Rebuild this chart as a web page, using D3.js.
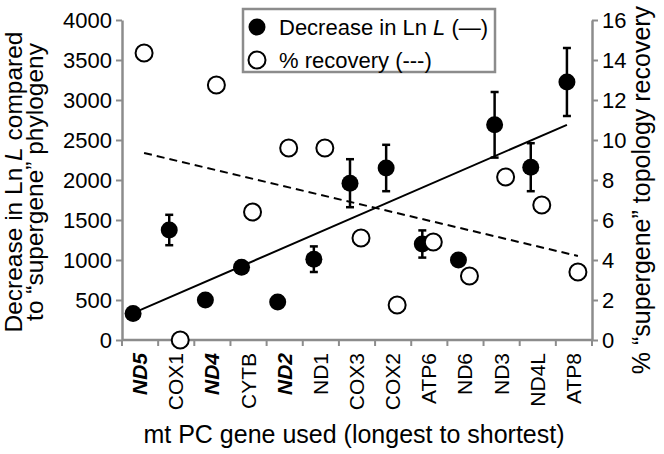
<!DOCTYPE html>
<html>
<head>
<meta charset="utf-8">
<script src="https://cdn.jsdelivr.net/npm/d3@7"></script>
<style>
  body { margin: 0; background: #fff; }
  svg { display: block; font-family: "Liberation Sans", Arial, sans-serif; }
</style>
</head>
<body>
<div id="chart"></div>
<script>
// genes, longest to shortest
var categories = ["ND5", "COX1", "ND4", "CYTB", "ND2", "ND1", "COX3", "COX2", "ATP6", "ND6", "ND3", "ND4L", "ATP8"];
var boldGenes = ["ND5", "ND4", "ND2"];

// decrease in Ln L compared to supergene phylogeny (left axis)
var lnLDecrease = [330, 1375, 500, 910, 475, 1010, 1960, 2150, 1200, 1000, 2690, 2160, 3225];
var lnLError = [0, 190, 0, 0, 0, 160, 300, 290, 170, 0, 410, 300, 425];

// % supergene topology recovery (right axis)
var recovery = [14.35, 0, 12.75, 6.4, 9.6, 9.6, 5.1, 1.75, 4.9, 3.2, 8.15, 6.75, 3.4];

// trend line ends (first gene, last gene)
var lnLTrend = [335, 2690];
var recoveryTrend = [9.35, 4.2];

var leftTicks = [0, 500, 1000, 1500, 2000, 2500, 3000, 3500, 4000];
var rightTicks = [0, 2, 4, 6, 8, 10, 12, 14, 16];

var width = 664, height = 454;
var axisColor = "#8c8c8c";

var svg = d3.select("#chart").append("svg")
    .attr("width", width)
    .attr("height", height);

var x = d3.scaleBand().domain(categories).range([122, 592]);
var yL = d3.scaleLinear().domain([0, 4000]).range([340, 20]);
var yR = d3.scaleLinear().domain([0, 16]).range([340, 20]);

function cx(c) { return x(c) + x.bandwidth() / 2; }
var offFilled = -7, offOpen = 4;

//left axis
var gLeft = svg.append("g")
    .attr("transform", "translate(122,0)")
    .call(d3.axisLeft(yL).tickValues(leftTicks).tickFormat(d3.format("d"))
        .tickSize(6).tickSizeOuter(0).tickPadding(4));
gLeft.selectAll("text").style("font-size", "22px").attr("fill", "#000");

//right axis
var gRight = svg.append("g")
    .attr("transform", "translate(592,0)")
    .call(d3.axisRight(yR).tickValues(rightTicks).tickFormat(d3.format("d"))
        .tickSize(6).tickSizeOuter(0).tickPadding(4));
gRight.selectAll("text").style("font-size", "22px").attr("fill", "#000");

[gLeft, gRight].forEach(function(g){
    g.select(".domain").attr("stroke", axisColor).attr("stroke-width", 2.5);
    g.selectAll(".tick line").attr("stroke", axisColor).attr("stroke-width", 2);
});

//bottom axis with ticks between genes
svg.append("line")
    .attr("x1", 122).attr("x2", 592)
    .attr("y1", 340).attr("y2", 340)
    .attr("stroke", axisColor).attr("stroke-width", 2.5);

var bounds = categories.map(function(c){ return x(c); }).concat([x.range()[1]]);
svg.selectAll(".xtick")
    .data(bounds)
    .enter().append("line")
    .attr("class", "xtick")
    .attr("x1", function(d){ return d; })
    .attr("x2", function(d){ return d; })
    .attr("y1", 340).attr("y2", 346)
    .attr("stroke", axisColor).attr("stroke-width", 2);

svg.selectAll(".xlabel")
    .data(categories)
    .enter().append("text")
    .attr("class", "xlabel")
    .attr("transform", function(d){ return "translate(" + (cx(d) + 7) + ",353) rotate(-90)"; })
    .attr("text-anchor", "end")
    .style("font-size", "21px")
    .style("font-weight", function(d){ return boldGenes.indexOf(d) >= 0 ? "bold" : "normal"; })
    .style("font-style", function(d){ return boldGenes.indexOf(d) >= 0 ? "italic" : "normal"; })
    .text(function(d){ return d; });

//axis titles
svg.append("text")
    .attr("x", 354).attr("y", 443)
    .attr("text-anchor", "middle")
    .style("font-size", "25px")
    .text("mt PC gene used (longest to shortest)");

var leftTitle = svg.append("text")
    .attr("transform", "translate(22,182) rotate(-90)")
    .attr("text-anchor", "middle")
    .style("font-size", "24.5px");
leftTitle.append("tspan").text("Decrease in Ln ");
leftTitle.append("tspan").style("font-style", "italic").text("L");
leftTitle.append("tspan").text(" compared");

svg.append("text")
    .attr("transform", "translate(43,182) rotate(-90)")
    .attr("text-anchor", "middle")
    .style("font-size", "24.5px")
    .text("to \u201csupergene\u201d phylogeny");

svg.append("text")
    .attr("transform", "translate(650,190) rotate(-90)")
    .attr("text-anchor", "middle")
    .style("font-size", "25px")
    .text("% \u201csupergene\u201d topology recovery");

//trend lines
svg.append("line")
    .attr("x1", cx(categories[0]) + offFilled)
    .attr("x2", cx(categories[categories.length - 1]) + offFilled)
    .attr("y1", yL(lnLTrend[0]))
    .attr("y2", yL(lnLTrend[1]))
    .attr("stroke", "#000").attr("stroke-width", 2);

svg.append("line")
    .attr("x1", cx(categories[0]) + offOpen)
    .attr("x2", cx(categories[categories.length - 1]) + offOpen)
    .attr("y1", yR(recoveryTrend[0]))
    .attr("y2", yR(recoveryTrend[1]))
    .attr("stroke", "#000").attr("stroke-width", 2)
    .attr("stroke-dasharray", "8,5");

//error bars
var errData = categories.map(function(c, i){
    return {gene: c, v: lnLDecrease[i], e: lnLError[i]};
}).filter(function(d){ return d.e > 0; });

var eb = svg.selectAll(".err").data(errData).enter().append("g").attr("class", "err");
eb.append("line")
    .attr("x1", function(d){ return cx(d.gene) + offFilled; })
    .attr("x2", function(d){ return cx(d.gene) + offFilled; })
    .attr("y1", function(d){ return yL(d.v - d.e); })
    .attr("y2", function(d){ return yL(d.v + d.e); })
    .attr("stroke", "#000").attr("stroke-width", 2.5);
[1, -1].forEach(function(s){
    eb.append("line")
        .attr("x1", function(d){ return cx(d.gene) + offFilled - 4; })
        .attr("x2", function(d){ return cx(d.gene) + offFilled + 4; })
        .attr("y1", function(d){ return yL(d.v + s * d.e); })
        .attr("y2", function(d){ return yL(d.v + s * d.e); })
        .attr("stroke", "#000").attr("stroke-width", 2.5);
});

//filled points
svg.selectAll(".filled")
    .data(categories)
    .enter().append("circle")
    .attr("class", "filled")
    .attr("cx", function(d){ return cx(d) + offFilled; })
    .attr("cy", function(d, i){ return yL(lnLDecrease[i]); })
    .attr("r", 8.5)
    .attr("fill", "#000");

//open points
svg.selectAll(".open")
    .data(categories)
    .enter().append("circle")
    .attr("class", "open")
    .attr("cx", function(d){ return cx(d) + offOpen; })
    .attr("cy", function(d, i){ return yR(recovery[i]); })
    .attr("r", 8.5)
    .attr("fill", "#fff")
    .attr("stroke", "#000")
    .attr("stroke-width", 2);

//legend
var legend = svg.append("g");
legend.append("rect")
    .attr("x", 243).attr("y", 9)
    .attr("width", 252).attr("height", 63)
    .attr("fill", "#fff")
    .attr("stroke", axisColor).attr("stroke-width", 2.5);
legend.append("circle")
    .attr("cx", 257).attr("cy", 27).attr("r", 8.5).attr("fill", "#000");
legend.append("circle")
    .attr("cx", 257).attr("cy", 60).attr("r", 8.5)
    .attr("fill", "#fff").attr("stroke", "#000").attr("stroke-width", 2);
var l1 = legend.append("text").attr("x", 279).attr("y", 35).style("font-size", "22px");
l1.append("tspan").text("Decrease in Ln ");
l1.append("tspan").style("font-style", "italic").text("L");
l1.append("tspan").text(" (\u2014)");
legend.append("text").attr("x", 279).attr("y", 68).style("font-size", "22px")
    .text("% recovery (---)");
</script>
</body>
</html>
